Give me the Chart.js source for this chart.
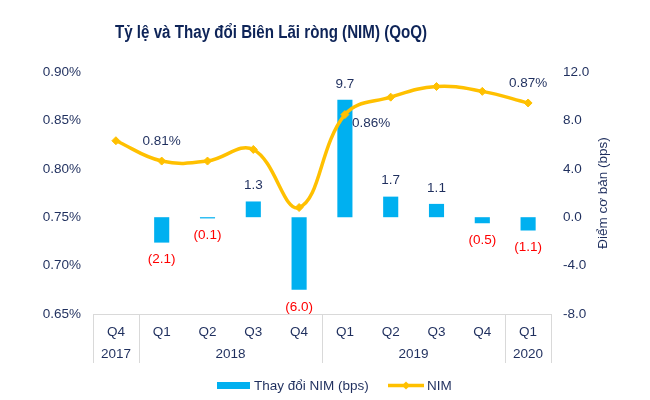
<!DOCTYPE html>
<html>
<head>
<meta charset="utf-8">
<script src="https://cdn.jsdelivr.net/npm/chart.js@4.4.1/dist/chart.umd.min.js"></script>
<style>
  html, body { margin: 0; padding: 0; background: #fff; }
  #wrap { width: 650px; height: 400px; }
</style>
</head>
<body>
<div id="wrap"><canvas id="nim-chart"></canvas></div>
<script>
// data
var quarters = ["Q4", "Q1", "Q2", "Q3", "Q4", "Q1", "Q2", "Q3", "Q4", "Q1"];
var years = ["2017", "2018", "2018", "2018", "2018", "2019", "2019", "2019", "2019", "2020"];
var nimChange = [null, -2.1, -0.1, 1.3, -6.0, 9.7, 1.7, 1.1, -0.5, -1.1];
var nim = [0.829, 0.808, 0.808, 0.820, 0.760, 0.856, 0.874, 0.885, 0.880, 0.868];
var nimLabels = [null, "0.81%", null, null, null, "0.86%", null, null, null, "0.87%"];
var leftTicks = [0.65, 0.70, 0.75, 0.80, 0.85, 0.90];
var rightTicks = [-8, -4, 0, 4, 8, 12];

var BLUE = "#00B0F0";
var GOLD = "#FFC000";
var NAVY = "#1F2F5E";
var RED = "#FF0000";
var FONT = "'Liberation Sans', Arial, sans-serif";

var extras = {
  id: "extras",
  afterDatasetsDraw: function(chart) {
    var ctx = chart.ctx;
    ctx.save();
    ctx.font = "13.5px " + FONT;
    ctx.textAlign = "center";
    ctx.textBaseline = "middle";
    // bar labels
    var bars = chart.getDatasetMeta(1).data;
    bars.forEach(function(el, i) {
      var v = nimChange[i];
      if (v === null) return;
      if (v >= 0) {
        ctx.fillStyle = NAVY;
        ctx.fillText(v.toFixed(1), el.x, Math.min(el.y, el.base) - 16);
      } else {
        ctx.fillStyle = RED;
        ctx.fillText("(" + Math.abs(v).toFixed(1) + ")", el.x, Math.max(el.y, el.base) + 17);
      }
    });
    // line labels
    var pts = chart.getDatasetMeta(0).data;
    ctx.fillStyle = NAVY;
    pts.forEach(function(el, i) {
      if (!nimLabels[i]) return;
      if (i === 5) {
        ctx.textAlign = "left";
        ctx.fillText(nimLabels[i], el.x + 7, el.y + 9);
        ctx.textAlign = "center";
      } else {
        ctx.fillText(nimLabels[i], el.x, el.y - 20);
      }
    });
    ctx.restore();
  },
  afterDraw: function(chart) {
    var ctx = chart.ctx;
    var x = chart.scales.x;
    var area = chart.chartArea;
    ctx.save();

    // title
    var title = "Tỷ lệ và Thay đổi Biên Lãi ròng (NIM) (QoQ)";
    ctx.font = "bold 18px " + FONT;
    ctx.fillStyle = "#0E2458";
    ctx.textAlign = "center";
    ctx.textBaseline = "middle";
    var w = ctx.measureText(title).width;
    ctx.save();
    ctx.translate(271, 33);
    ctx.scale(312 / w, 1);
    ctx.fillText(title, 0, 0);
    ctx.restore();

    // right axis title
    ctx.font = "13.5px " + FONT;
    ctx.fillStyle = NAVY;
    ctx.save();
    ctx.translate(603, (area.top + area.bottom) / 2);
    ctx.rotate(-Math.PI / 2);
    ctx.fillText("Điểm cơ bản (bps)", 0, 0);
    ctx.restore();

    // year groups with separators
    var half = (x.getPixelForValue(1) - x.getPixelForValue(0)) / 2;
    ctx.strokeStyle = "#D9D9D9";
    ctx.lineWidth = 1;
    var start = 0;
    for (var i = 0; i < years.length; i++) {
      if (i === 0) {
        var lx = Math.round(x.getPixelForValue(0) - half) + 0.5;
        ctx.beginPath(); ctx.moveTo(lx, x.top); ctx.lineTo(lx, x.top + 49); ctx.stroke();
      }
      if (i === years.length - 1 || years[i] !== years[i + 1]) {
        var rx = Math.round(x.getPixelForValue(i) + half) + 0.5;
        ctx.beginPath(); ctx.moveTo(rx, x.top); ctx.lineTo(rx, x.top + 49); ctx.stroke();
        var cx = (x.getPixelForValue(start) + x.getPixelForValue(i)) / 2;
        ctx.fillStyle = NAVY;
        ctx.fillText(years[i], cx, 354);
        start = i + 1;
      }
    }

    // legend
    ctx.fillStyle = BLUE;
    ctx.fillRect(217, 382, 33, 7);
    ctx.fillStyle = NAVY;
    ctx.textAlign = "left";
    ctx.fillText("Thay đổi NIM (bps)", 254, 386);
    ctx.strokeStyle = GOLD;
    ctx.lineWidth = 3.5;
    ctx.beginPath(); ctx.moveTo(388, 385.5); ctx.lineTo(424, 385.5); ctx.stroke();
    ctx.fillStyle = GOLD;
    ctx.beginPath();
    ctx.moveTo(402, 385.5); ctx.lineTo(406, 381.5); ctx.lineTo(410, 385.5); ctx.lineTo(406, 389.5);
    ctx.closePath(); ctx.fill();
    ctx.fillStyle = NAVY;
    ctx.fillText("NIM", 427, 386);
    ctx.restore();
  }
};

new Chart(document.getElementById("nim-chart"), {
  type: "bar",
  data: {
    labels: quarters,
    datasets: [
      {
        type: "line",
        label: "NIM",
        data: nim,
        yAxisID: "y",
        borderColor: GOLD,
        backgroundColor: GOLD,
        borderWidth: 3.5,
        tension: 0.4,
        pointStyle: "rectRot",
        pointRadius: 4,
        pointBorderWidth: 1,
        pointBorderColor: GOLD,
        pointBackgroundColor: GOLD,
        order: 0
      },
      {
        label: "Thay đổi NIM (bps)",
        data: nimChange,
        yAxisID: "y1",
        backgroundColor: BLUE,
        categoryPercentage: 1,
        barPercentage: 0.33,
        order: 1
      }
    ]
  },
  options: {
    responsive: true,
    maintainAspectRatio: false,
    animation: false,
    layout: { padding: { top: 72, left: 0, right: 0, bottom: 0 } },
    plugins: {
      legend: { display: false },
      title: { display: false },
      tooltip: { enabled: false }
    },
    scales: {
      x: {
        grid: { display: false, drawTicks: false },
        border: { display: true, color: "#D9D9D9" },
        ticks: { color: NAVY, font: { family: FONT, size: 13.5 }, padding: 10, maxRotation: 0 },
        afterFit: function(s) { s.height = 86; }
      },
      y: {
        position: "left",
        min: 0.65,
        max: 0.90,
        grid: { display: false, drawTicks: false },
        border: { display: false },
        afterBuildTicks: function(s) { s.ticks = leftTicks.map(function(v) { return { value: v }; }); },
        ticks: {
          color: NAVY,
          font: { family: FONT, size: 13.5 },
          padding: 12,
          callback: function(v) { return v.toFixed(2) + "%"; }
        },
        afterFit: function(s) { s.width = 93; }
      },
      y1: {
        position: "right",
        min: -8,
        max: 12,
        grid: { display: false, drawTicks: false },
        border: { display: false },
        afterBuildTicks: function(s) { s.ticks = rightTicks.map(function(v) { return { value: v }; }); },
        ticks: {
          color: NAVY,
          font: { family: FONT, size: 13.5 },
          padding: 12,
          callback: function(v) { return v.toFixed(1); }
        },
        afterFit: function(s) { s.width = 99; }
      }
    }
  },
  plugins: [extras]
});
</script>
</body>
</html>
